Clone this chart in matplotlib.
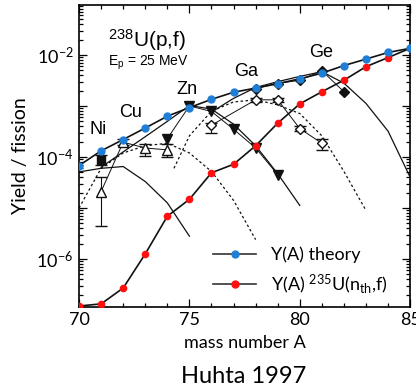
import math
import matplotlib
matplotlib.use("Agg")
import matplotlib.pyplot as plt
from matplotlib.ticker import FixedLocator, FuncFormatter, LogLocator, NullFormatter, MultipleLocator
from matplotlib.lines import Line2D

# Y(A) from theory and from thermal-neutron fission of 235U
mass = [70, 71, 72, 73, 74, 75, 76, 77, 78, 79, 80, 81, 82, 83, 84, 85]
y_theory = [6.8e-5, 1.32e-4, 2.2e-4, 3.7e-4, 6.3e-4, 9.3e-4, 1.35e-3, 1.86e-3,
            2.24e-3, 2.75e-3, 3.4e-3, 4.4e-3, 6.2e-3, 8.3e-3, 1.12e-2, 1.35e-2]
y_235u = [1.2e-7, 1.32e-7, 2.7e-7, 1.26e-6, 6.9e-6, 1.48e-5, 4.9e-5, 7.2e-5,
          1.66e-4, 4.6e-4, 1.1e-3, 1.9e-3, 3.2e-3, 5.9e-3, 8.9e-3, 1.35e-2]

# isotope theory curves
ni_a = [70, 71, 72, 73, 74, 75]
ni_curve = [5.1e-5, 6.0e-5, 6.5e-5, 3.3e-5, 1.26e-5, 2.8e-6]
cu_a = [70, 71, 72, 73, 74, 75, 76, 77, 78]
cu_curve = [1.0e-5, 6.0e-5, 1.2e-4, 1.66e-4, 1.86e-4, 1.2e-4, 5.2e-5, 1.41e-5, 2.4e-6]
zn_a = [71, 72, 73, 74, 75, 76, 77, 78, 79, 80]
zn_curve = [6.3e-5, 1.26e-4, 2.5e-4, 5.0e-4, 1.02e-3, 8.7e-4, 4.4e-4, 1.66e-4, 4.7e-5, 1.12e-5]
ga_a = [74.3, 75, 76, 77, 78, 79, 80, 81, 82, 83]
ga_curve = [6.0e-5, 2.6e-4, 7.9e-4, 1.2e-3, 1.32e-3, 1.05e-3, 7.1e-4, 2.6e-4, 5.2e-5, 8.9e-6]
ge_a = [76, 77, 78, 79, 80, 81, 82, 83, 84, 85]
ge_curve = [7.6e-4, 1.41e-3, 2.3e-3, 3.0e-3, 3.8e-3, 4.7e-3, 2.8e-3, 1.12e-3, 3.2e-4, 4.0e-5]

# measured yields (Huhta 1997)
ni_exp_a = [71]
ni_exp = [8.7e-5]
ni_err = [[1.7e-5], [2.3e-5]]
cu_exp_a = [71, 72, 73, 74]
cu_exp = [2.1e-5, 1.95e-4, 1.5e-4, 1.38e-4]
cu_err = [[1.65e-5, 2.0e-5, 4.5e-5, 4.0e-5], [1.9e-5, 3.0e-5, 3.0e-5, 4.0e-5]]
zn_exp_a = [74, 75, 76, 77, 78, 79]
zn_exp = [2.3e-4, 1.0e-3, 7.8e-4, 3.5e-4, 1.5e-4, 4.5e-5]
ga_exp_a = [76, 78, 79, 80, 81]
ga_exp = [4.2e-4, 1.32e-3, 1.32e-3, 3.6e-4, 1.86e-4]
ga_err = [[1.2e-4, 1.0e-4, 1.0e-4, 4.0e-5, 4.6e-5], [4.0e-5, 1.0e-4, 1.0e-4, 4.0e-5, 4.4e-5]]
ge_exp_a = [78, 79, 80, 81, 82]
ge_exp = [2.2e-3, 2.75e-3, 3.2e-3, 4.9e-3, 1.9e-3]

element_labels = ["Ni", "Cu", "Zn", "Ga", "Ge"]
element_pos = [(70.85, 3.4e-4), (72.35, 7.6e-4), (74.9, 2.15e-3), (77.55, 4.7e-3), (80.95, 1.1e-2)]

fig = plt.figure(figsize=(4.16, 3.91), dpi=100)
ax = fig.add_axes([0.19, 0.215, 0.796, 0.772])

sans = "Liberation Sans"
lab = "Lato"
blk = "#111111"

# theory curves
ax.plot(ni_a, ni_curve, color=blk, lw=0.9)
ax.plot(cu_a, cu_curve, color=blk, lw=0.9, ls=(0, (2, 2)))
ax.plot(zn_a, zn_curve, color=blk, lw=0.9)
ax.plot(ga_a, ga_curve, color=blk, lw=0.9, ls=(0, (2, 2)))
ax.plot(ge_a, ge_curve, color=blk, lw=0.9)

# data points
ax.errorbar(ni_exp_a, ni_exp, yerr=ni_err, fmt="s", color=blk, ms=6, capsize=4, elinewidth=0.8)
ax.errorbar(cu_exp_a, cu_exp, yerr=cu_err, fmt="^-", color=blk, mfc="white", ms=7,
            capsize=4, elinewidth=0.8, lw=0.7)
ax.plot(zn_exp_a, zn_exp, "v-", color=blk, ms=7, lw=0.7)
ax.errorbar(ga_exp_a, ga_exp, yerr=ga_err, fmt="D-", color=blk, mfc="white", ms=5.5,
            capsize=4, elinewidth=0.8, lw=0.7)
ax.plot(ge_exp_a, ge_exp, "D-", color=blk, ms=5.5, lw=0.7)

# systematics
ax.plot(mass, y_235u, "-", color=blk, lw=1.2, marker="o", ms=4.5,
        mfc="#ff1010", mec="#ff1010", zorder=4)
ax.plot(mass, y_theory, "-", color=blk, lw=1.2, marker="o", ms=5,
        mfc="#1f7fd6", mec="#1f7fd6", zorder=4)

ax.set_yscale("log")
ax.set_xlim(70, 85)
ax.set_ylim(1.15e-7, 9.5e-2)

ax.xaxis.set_major_locator(FixedLocator([70, 75, 80, 85]))
ax.xaxis.set_minor_locator(MultipleLocator(1))
ax.yaxis.set_major_locator(FixedLocator([1e-7, 1e-6, 1e-5, 1e-4, 1e-3, 1e-2, 1e-1]))
ax.yaxis.set_minor_locator(LogLocator(base=10, subs=range(2, 10), numticks=20))
ax.yaxis.set_minor_formatter(NullFormatter())


def ylab(v, pos):
    e = int(round(math.log10(v)))
    if e in (-2, -4, -6):
        return r"$\mathregular{10^{%d}}$" % e
    return ""


ax.yaxis.set_major_formatter(FuncFormatter(ylab))
ax.tick_params(which="both", direction="in", top=True, right=True, width=0.9)
ax.tick_params(which="major", length=6, labelsize=13, pad=4)
ax.tick_params(which="minor", length=3)
for t in ax.get_xticklabels() + ax.get_yticklabels():
    t.set_fontfamily(lab)
for s in ax.spines.values():
    s.set_linewidth(1.2)

ax.set_xlabel("mass number A", fontsize=13, family=lab, labelpad=5)
ax.set_ylabel("Yield / fission", fontsize=14, family=lab, labelpad=5)
fig.text(0.585, 0.036, "Huhta 1997", fontsize=17, family=lab, ha="center", va="center")

ax.text(71.3, 1.95e-2, r"$\mathregular{^{238}}$U(p,f)", fontsize=15, family=sans, va="center")
ax.text(71.3, 6.9e-3, r"E$\mathregular{_p}$ = 25 MeV", fontsize=10, family=sans, va="center")
for name, (xx, yy) in zip(element_labels, element_pos):
    ax.text(xx, yy, name, fontsize=13, family=sans, ha="center", va="center")

handles = [Line2D([], [], color="#333333", lw=1.2, marker="o", ms=5, mfc="#1f7fd6", mec="#1f7fd6"),
           Line2D([], [], color="#333333", lw=1.2, marker="o", ms=5, mfc="#ff1010", mec="#ff1010")]
leg = ax.legend(handles, ["Y(A) theory", r"Y(A) $\mathregular{^{235}}$U(n$\mathregular{_{th}}$,f)"],
                loc="lower left", bbox_to_anchor=(0.355, -0.018), frameon=False,
                handlelength=2.4, labelspacing=0.5, prop={"family": lab, "size": 13})

fig.savefig("out.png", dpi=100)
